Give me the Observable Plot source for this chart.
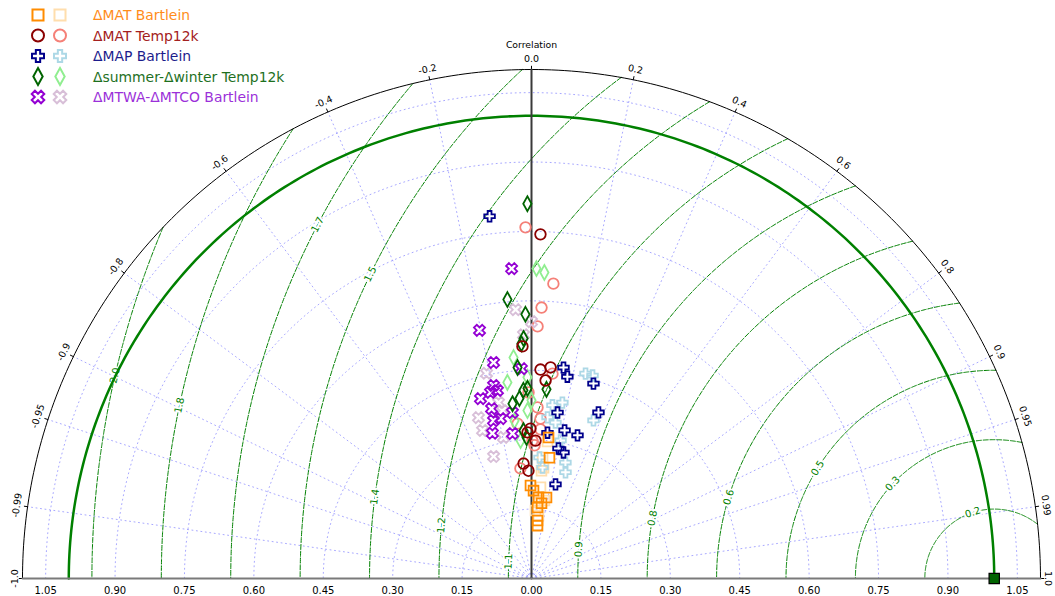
<!DOCTYPE html>
<html><head><meta charset="utf-8">
<script src="https://cdn.jsdelivr.net/npm/d3@7"></script>
<script src="https://cdn.jsdelivr.net/npm/@observablehq/plot@0.6"></script>
<style>
body{margin:0;background:#fff;font-family:"DejaVu Sans",sans-serif;}
#wrap{position:relative;width:1055px;height:596px;overflow:hidden;}
#legend{position:absolute;left:0;top:0;}
</style></head><body><div id="wrap"><div id="chart"></div><div id="legend"></div></div>
<script>
// ---------------- data (standard deviation, correlation) ----------------
const matBartleinStdA  = [0.307,0.264,0.201,0.176,0.178,0.154,0.126,0.115,0.190,0.164];
const matBartleinCorrA = [0.120,0.147,-0.011,0.086,0.182,0.084,0.103,0.113,0.023,0.132];
const matBartleinStdB  = [0.263,0.241,0.198,0.147,0.298,0.137,0.171,0.234,0.165];
const matBartleinCorrB = [0.091,0.108,0.098,0.059,0.116,0.110,0.164,0.092,0.092];

const matTemp12kStdA  = [0.744,0.452,0.458,0.429,0.502,0.324,0.298,0.249,0.233,0.316];
const matTemp12kCorrA = [0.026,0.043,0.090,0.071,-0.039,-0.007,0.029,-0.069,-0.028,-0.027];
const matTemp12kStdB  = [0.759,0.639,0.586,0.545,0.445,0.370,0.346,0.336,0.298,0.288,0.239,0.323,0.402];
const matTemp12kCorrB = [-0.017,0.074,0.037,0.024,0.102,0.035,0.056,-0.090,0.007,0.023,-0.100,0.060,-0.016];

const mapBartleinStdA  = [0.788,0.461,0.443,0.442,0.363,0.387,0.328,0.325,0.317,0.287,0.281,0.210];
const mapBartleinCorrA = [-0.115,0.150,0.175,0.303,0.155,0.374,0.218,0.306,0.109,0.203,0.246,0.247];
const mapBartleinStdB  = [0.458,0.458,0.377,0.386,0.350,0.341,0.367,0.262,0.241,0.261,0.241,0.305];
const mapBartleinCorrB = [0.255,0.288,0.120,0.173,0.099,0.152,0.365,0.066,0.099,0.281,0.305,0.206];

const swTemp12kStdA  = [0.810,0.605,0.571,0.519,0.508,0.457,0.410,0.390,0.407,0.411,0.380,0.320,0.305];
const swTemp12kCorrA = [-0.011,-0.086,-0.023,-0.033,-0.043,-0.066,0.079,-0.067,-0.043,-0.021,-0.108,-0.054,-0.035];
const swTemp12kStdB  = [0.670,0.662,0.479,0.427,0.363,0.343,0.385,0.299,0.435];
const swTemp12kCorrB = [0.016,0.042,-0.081,-0.122,-0.024,-0.107,0.000,-0.079,-0.020];

const mtwaBartleinStdA  = [0.671,0.548,0.474,0.454,0.425,0.413,0.404,0.377,0.351,0.352,0.361,0.325,0.316,0.412];
const mtwaBartleinCorrA = [-0.064,-0.205,-0.173,-0.048,-0.193,-0.178,-0.273,-0.229,-0.234,-0.190,-0.114,-0.260,-0.130,-0.215];
const mtwaBartleinStdB  = [0.582,0.555,0.527,0.454,0.366,0.337,0.368,0.311,0.276,0.387];
const mtwaBartleinCorrB = [-0.059,0.000,-0.033,-0.214,-0.313,-0.314,-0.170,-0.195,-0.297,-0.184];

const refStd = [1.0];
const refCorr = [1.0];

// axes / labels
const corrTicks  = [-1,-0.99,-0.95,-0.9,-0.8,-0.6,-0.4,-0.2,0,0.2,0.4,0.6,0.8,0.9,0.95,0.99,1];
const corrLabels = ["-1.0","-0.99","-0.95","-0.9","-0.8","-0.6","-0.4","-0.2","0.0","0.2","0.4","0.6","0.8","0.9","0.95","0.99","1.0"];
const stdTicks   = [0,0.15,0.30,0.45,0.60,0.75,0.90,1.05];
const stdTickLabels = ["0.00","0.15","0.30","0.45","0.60","0.75","0.90","1.05"];
const rmsLevels  = [0.15,0.30,0.45,0.60,0.75,0.90,1.05,1.20,1.35,1.50,1.65,1.80,1.95];
const rmsLabels  = ["0.2","0.3","0.5","0.6","0.8","0.9","1.1","1.2","1.4","1.5","1.7","1.8","2.0"];
const rmsLabelAngles = [108,137,148,163,170,176,178,174.5,172.5,154,152.4,168,167];
const legendNames = ["ΔMAT Bartlein","ΔMAT Temp12k","ΔMAP Bartlein","Δsummer-Δwinter Temp12k","ΔMTWA-ΔMTCO Bartlein"];

// ---------------- geometry ----------------
const R = 1.1;
const deg = Math.PI/180;
function sym(fn){ return {draw(ctx,size){ const r=Math.sqrt(size/Math.PI); fn(ctx,r); }}; }
function poly(ctx, pts){ ctx.moveTo(pts[0][0],pts[0][1]); for(let i=1;i<pts.length;i++) ctx.lineTo(pts[i][0],pts[i][1]); ctx.closePath(); }
const plusPts = (e,a)=>[[-a,-e],[a,-e],[a,-a],[e,-a],[e,a],[a,a],[a,e],[-a,e],[-a,a],[-e,a],[-e,-a],[-a,-a]];
const squareSym  = sym((c,r)=>{const h=r*0.92; poly(c,[[-h,-h],[h,-h],[h,h],[-h,h]]);});
const circleSym  = sym((c,r)=>{c.moveTo(r,0); c.arc(0,0,r,0,2*Math.PI); c.closePath();});
const plusSym    = sym((c,r)=>poly(c, plusPts(r*1.0, r*0.36)));
const xSym       = sym((c,r)=>{const k=Math.SQRT1_2; poly(c, plusPts(r*1.1, r*0.38).map(([x,y])=>[(x-y)*k,(x+y)*k]));});
const diamondSym = sym((c,r)=>poly(c,[[0,-1.4*r],[0.78*r,0],[0,1.4*r],[-0.78*r,0]]));

const series = [
  {sym:squareSym,  dark:"#ff8c00", light:"#ffdead", text:"#ff8c1a", A:[matBartleinStdA,matBartleinCorrA], B:[matBartleinStdB,matBartleinCorrB]},
  {sym:circleSym,  dark:"#8b0000", light:"#f58078", text:"#a32020", A:[matTemp12kStdA,matTemp12kCorrA], B:[matTemp12kStdB,matTemp12kCorrB]},
  {sym:plusSym,    dark:"#00008b", light:"#add8e6", text:"#1c1c8c", A:[mapBartleinStdA,mapBartleinCorrA], B:[mapBartleinStdB,mapBartleinCorrB]},
  {sym:diamondSym, dark:"#006400", light:"#90ee90", text:"#1e701e", A:[swTemp12kStdA,swTemp12kCorrA], B:[swTemp12kStdB,swTemp12kCorrB]},
  {sym:xSym,       dark:"#9400d3", light:"#d8bfd8", text:"#9b30d9", A:[mtwaBartleinStdA,mtwaBartleinCorrA], B:[mtwaBartleinStdB,mtwaBartleinCorrB]}
];
const toPts = ([s,c]) => s.map((v,i)=>({s:v, c:c[i]}));
const PX = d => d.s*d.c, PY = d => d.s*Math.sqrt(Math.max(0,1-d.c*d.c));

function arc(r, a0, a1, cx=0, n=240, id=0){
  const out=[]; for(let i=0;i<=n;i++){ const a=a0+(a1-a0)*i/n; out.push({x:cx+r*Math.cos(a), y:r*Math.sin(a), id}); } return out;
}
const stdArcs = stdTicks.filter(v=>v>0).flatMap((r,i)=>arc(r,0,Math.PI,0,240,i));
const radial = corrTicks.filter(c=>Math.abs(c)<1 && c!==0).flatMap((c,i)=>{const a=Math.acos(c); return [{x:0,y:0,id:i},{x:R*Math.cos(a),y:R*Math.sin(a),id:i}];});
const rmsLines = rmsLevels.flatMap((r,i)=>{
  const cmax = Math.max(-1, Math.min(1,(R*R-1-r*r)/(2*r)));
  const a0 = Math.acos(cmax);
  return arc(r, a0, Math.PI, 1, 300, i);
});
const rmsText = rmsLevels.map((r,i)=>{const a=rmsLabelAngles[i]*deg; return {x:1+r*Math.cos(a), y:r*Math.sin(a), t:rmsLabels[i], rot:90-rmsLabelAngles[i]};});
const corrText = corrTicks.map((c,i)=>{const a=Math.acos(c); const rr = Math.abs(c)===1 ? 1.117 : 1.123; return {x:rr*Math.cos(a), y:rr*Math.sin(a), t:corrLabels[i], rot:90-a/deg};});
const corrTickMarks = corrTicks.map(c=>{const a=Math.acos(c); return {x1:R*Math.cos(a),y1:R*Math.sin(a),x2:1.108*Math.cos(a),y2:1.108*Math.sin(a)};});
const stdText = stdTicks.flatMap((v,i)=> v===0 ? [{x:0,t:stdTickLabels[i],b:true}] : [{x:-v,t:stdTickLabels[i]},{x:v,t:stdTickLabels[i]}]);

const pointMarks = [];
series.forEach(s=>pointMarks.push(Plot.dot(toPts(s.B),{x:PX,y:PY,symbol:s.sym,r:5.3,stroke:s.light,fill:"none",strokeWidth:1.8})));
series.slice().reverse().forEach(s=>pointMarks.push(Plot.dot(toPts(s.A),{x:PX,y:PY,symbol:s.sym,r:5.3,stroke:s.dark,fill:"none",strokeWidth:1.8})));

const gridStyle = {stroke:"#6060ff",strokeOpacity:0.55,strokeWidth:1,strokeDasharray:"1,3.5"};
const chart = Plot.plot({
  width:1055, height:596, marginLeft:22, marginRight:15, marginTop:69, marginBottom:18,
  x:{domain:[-R,R], axis:null}, y:{domain:[0,R], axis:null},
  style:{fontFamily:"DejaVu Sans, sans-serif", background:"white", overflow:"visible"},
  marks:[
    Plot.line(stdArcs,{x:"x",y:"y",z:"id",...gridStyle}),
    Plot.line(radial,{x:"x",y:"y",z:"id",...gridStyle}),
    Plot.line(rmsLines,{x:"x",y:"y",z:"id",stroke:"#008000",strokeWidth:1,strokeDasharray:"5,1.8"}),
    Plot.text(rmsText,{x:"x",y:"y",text:"t",rotate:"rot",fill:"#008000",stroke:"white",strokeWidth:4,fontSize:10,textAnchor:"middle",lineAnchor:"middle"}),
    Plot.line(arc(1,0,Math.PI),{x:"x",y:"y",stroke:"#008000",strokeWidth:2.5}),
    Plot.line(arc(R,0,Math.PI),{x:"x",y:"y",stroke:"black",strokeWidth:1}),
    Plot.link(corrTickMarks,{x1:"x1",y1:"y1",x2:"x2",y2:"y2",stroke:"black",strokeWidth:1}),
    Plot.line([{x:0,y:0},{x:0,y:R}],{x:"x",y:"y",stroke:"#3a3a3a",strokeWidth:2}),
    Plot.line([{x:-R,y:0},{x:R,y:0}],{x:"x",y:"y",stroke:"#7a7a7a",strokeWidth:2}),
    ...pointMarks,
    Plot.dot(toPts([refStd,refCorr]),{x:PX,y:PY,symbol:squareSym,r:5.6,fill:"#006400",stroke:"black",strokeWidth:1.2}),
    Plot.text(corrText,{x:"x",y:"y",text:"t",rotate:"rot",fill:"black",fontSize:9.5,textAnchor:"middle",lineAnchor:"middle"}),
    Plot.text(["Correlation"],{x:()=>0,y:()=>1.152,text:d=>d,fill:"black",fontSize:9.3,textAnchor:"middle",lineAnchor:"middle"}),
    Plot.text(stdText,{x:"x",y:()=>0,dy:12,text:"t",fill:"black",fontSize:10,textAnchor:"middle",lineAnchor:"middle",fontWeight:d=>d.b?"bold":"normal"})
  ]
});
document.getElementById("chart").appendChild(chart);

// ---------------- legend ----------------
function symPath(s, r){ const p=d3.path(); s.draw(p, Math.PI*r*r); return p.toString(); }
let lg = `<svg width="320" height="110" xmlns="http://www.w3.org/2000/svg" style="font-family:'DejaVu Sans',sans-serif">`;
series.forEach((s,i)=>{
  const y = 15 + i*20.5;
  lg += `<path transform="translate(38,${y})" d="${symPath(s.sym,6)}" fill="none" stroke="${s.dark}" stroke-width="2"/>`;
  lg += `<path transform="translate(60,${y})" d="${symPath(s.sym,6)}" fill="none" stroke="${s.light}" stroke-width="2"/>`;
  lg += `<text x="93" y="${y}" dy="0.36em" font-size="13.9" fill="${s.text}">${legendNames[i]}</text>`;
});
lg += `</svg>`;
document.getElementById("legend").innerHTML = lg;
</script></body></html>
